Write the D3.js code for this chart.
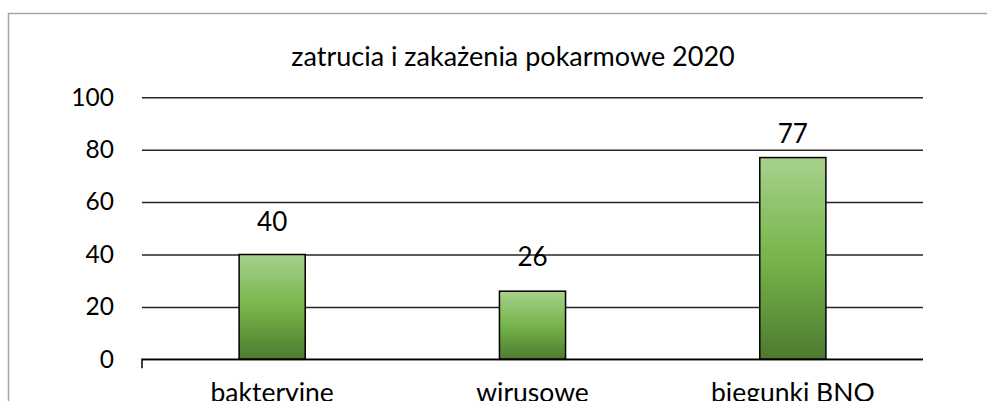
<!DOCTYPE html>
<html>
<head>
<meta charset="utf-8">
<script src="https://cdn.jsdelivr.net/npm/d3@7.9.0/dist/d3.min.js"></script>
<style>
  html, body { margin: 0; padding: 0; background: #fff; overflow: hidden; }
  svg { display: block; font-family: Lato, "Open Sans", sans-serif; }
</style>
</head>
<body>
<svg width="987" height="401"></svg>
<script>
const categories = ['bakteryjne', 'wirusowe', 'biegunki BNO'];
const values = [40, 26, 77];
const yTicks = [0, 20, 40, 60, 80, 100];
const title = 'zatrucia i zakażenia pokarmowe 2020';

// gap between bar top and its value label (the last one sits lower, near the top)
const labelGaps = [23.6, 25, 14.5];

const svg = d3.select('svg');
const plot = { left: 142, right: 923, top: 97.3, bottom: 359.3 };

// chart frame (only left + top edges visible in the crop)
svg.append('path')
  .attr('d', 'M8.5,401V13.5H987')
  .attr('fill', 'none')
  .attr('stroke', '#a6a6a6')
  .attr('stroke-width', 1.5);

const x = d3.scaleBand()
  .domain(categories)
  .range([plot.left, plot.right])
  .paddingInner(0.746)
  .paddingOuter(0.373);

const y = d3.scaleLinear()
  .domain([0, 100])
  .range([plot.bottom, plot.top]);

// gradient like Excel's green bar fill
const grad = svg.append('defs').append('linearGradient')
  .attr('id', 'barFill')
  .attr('x1', 0).attr('y1', 0).attr('x2', 0).attr('y2', 1);
grad.append('stop').attr('offset', '0%').attr('stop-color', '#a7d18d');
grad.append('stop').attr('offset', '50%').attr('stop-color', '#77b54a');
grad.append('stop').attr('offset', '100%').attr('stop-color', '#4d7a30');

// y axis with gridlines
const yAxis = svg.append('g')
  .attr('transform', `translate(${plot.left},0)`)
  .call(d3.axisLeft(y).tickValues(yTicks).tickSize(-(plot.right - plot.left)).tickPadding(28));
yAxis.select('.domain').remove();
yAxis.selectAll('.tick line')
  .attr('stroke', '#262626')
  .attr('stroke-width', 1.5);
yAxis.selectAll('.tick text')
  .attr('font-size', 24.5)
  .attr('font-family', 'Lato, sans-serif')
  .attr('fill', '#000');

// bars
svg.selectAll('rect.bar')
  .data(values)
  .join('rect')
  .attr('class', 'bar')
  .attr('x', (d, i) => x(categories[i]))
  .attr('y', d => y(d))
  .attr('width', x.bandwidth())
  .attr('height', d => y(0) - y(d))
  .attr('fill', 'url(#barFill)')
  .attr('stroke', '#000')
  .attr('stroke-width', 1.5);

// x axis line with the small tick at the left end
svg.append('path')
  .attr('d', `M${plot.left},${y(0) + 9}V${y(0)}H${plot.right}`)
  .attr('fill', 'none')
  .attr('stroke', '#000')
  .attr('stroke-width', 1.5);

// value labels
svg.selectAll('text.value')
  .data(values)
  .join('text')
  .attr('class', 'value')
  .attr('x', (d, i) => x(categories[i]) + x.bandwidth() / 2)
  .attr('y', (d, i) => y(d) - labelGaps[i])
  .attr('text-anchor', 'middle')
  .attr('font-size', 26)
  .text(d => d);

// category labels (cut by the bottom edge, as in the source image)
svg.selectAll('text.cat')
  .data(categories)
  .join('text')
  .attr('class', 'cat')
  .attr('x', d => x(d) + x.bandwidth() / 2)
  .attr('y', 402)
  .attr('text-anchor', 'middle')
  .attr('font-size', 26.5)
  .text(d => d);

// title
svg.append('text')
  .attr('x', 513)
  .attr('y', 65.5)
  .attr('text-anchor', 'middle')
  .attr('font-size', 27)
  .text(title);
</script>
</body>
</html>
